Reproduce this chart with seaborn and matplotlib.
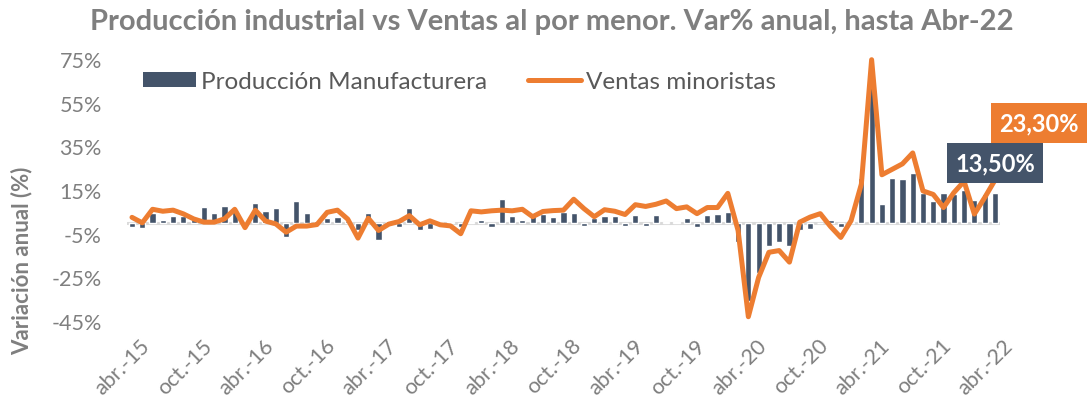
import matplotlib
matplotlib.use("Agg")
import matplotlib.pyplot as plt
import matplotlib.transforms as mtransforms
import seaborn as sns
import pandas as pd
from matplotlib.patches import Patch
from matplotlib.lines import Line2D

# months abr-15 .. abr-22
month_abbr = ["ene.", "feb.", "mar.", "abr.", "may.", "jun.", "jul.", "ago.", "sep.", "oct.", "nov.", "dic."]
months = [f"{month_abbr[(3 + k) % 12]}-{15 + (3 + k) // 12}" for k in range(85)]

# Producción Manufacturera, var% anual
produccion = [-2.0, -2.3, 4.4, 1.4, 3.3, 3.3, 2.6, 7.1, 4.4, 7.9, 6.4, 0.5,
              9.1, 5.3, 6.7, -6.6, 10.2, 4.6, 1.0, 2.1, 2.8, 1.0, -3.3, 4.7,
              -8.0, 1.0, -1.8, 6.7, -3.3, -3.0, 0.5, 0.3, -1.8, 0.3, 1.2, -1.8,
              10.8, 2.9, 1.4, 3.2, 4.2, 2.8, 5.0, 4.6, -1.4, 2.3, 3.0, 3.0,
              -1.6, 3.6, -1.3, 3.6, 0.3, 0.5, 2.2, -2.0, 3.5, 4.0, 4.8, -9.0,
              -36.0, -23.0, -10.5, -9.0, -10.7, -3.4, -3.0, -0.3, 1.5, -2.0, 0.5, 20.7,
              63.6, 8.5, 20.7, 20.0, 22.7, 13.8, 10.0, 13.8, 13.1, 15.0, 10.5, 13.0,
              13.5]

# Ventas minoristas, var% anual
ventas = [2.5, 0.0, 6.2, 5.3, 5.8, 4.1, 1.8, 0.3, 0.3, 1.8, 6.2, -2.2,
          5.8, 0.8, -0.5, -4.3, -1.5, -1.5, -0.8, 4.8, 5.8, 1.7, -7.0, 2.1,
          -3.5, -0.6, 0.6, 3.3, -0.9, 0.9, -0.9, -1.4, -5.0, 5.5, 5.0, 5.5,
          5.8, 5.5, 6.2, 2.8, 5.2, 5.6, 5.8, 10.8, 6.5, 2.8, 6.0, 5.3,
          3.8, 8.3, 7.5, 8.5, 10.0, 6.5, 7.3, 4.2, 7.0, 7.0, 13.5, -3.5,
          -43.0, -25.0, -13.5, -12.7, -18.0, 0.3, 2.6, 4.2, -1.7, -6.7, 1.0, 17.7,
          74.7, 22.0, 24.5, 27.0, 32.0, 14.6, 13.0, 7.0, 13.8, 19.0, 4.0, 11.5,
          19.5]

y_ticks = [-45, -25, -5, 15, 35, 55, 75]
x_tick_labels = ["abr.-15", "oct.-15", "abr.-16", "oct.-16", "abr.-17", "oct.-17", "abr.-18",
                 "oct.-18", "abr.-19", "oct.-19", "abr.-20", "oct.-20", "abr.-21", "oct.-21", "abr.-22"]
label_prod = "13,50%"
label_ventas = "23,30%"

BAR_COLOR = "#44546A"
LINE_COLOR = "#ED7D31"
GRAY = "#7F7F7F"

sns.set_style("white")
plt.rcParams["font.family"] = ["Lato", "DejaVu Sans"]

df = pd.DataFrame({"mes": months, "pos": range(len(months)),
                   "produccion": produccion, "ventas": ventas})

fig = plt.figure(figsize=(10.89, 4.14), dpi=100)
ax = fig.add_axes([0.1165, 0.222, 0.8018, 0.633])

ax.axhline(0, color="#D9D9D9", lw=2.2, zorder=0)
sns.barplot(data=df, x="pos", y="produccion", color=BAR_COLOR, width=0.6,
            saturation=1, native_scale=True, ax=ax, zorder=2)
sns.lineplot(data=df, x="pos", y="ventas", color=LINE_COLOR, lw=3.6, ax=ax,
             zorder=3, clip_on=False, solid_joinstyle="round", solid_capstyle="round")

ax.set_xlim(-0.5, len(months) - 0.5)
ax.set_ylim(-45, 75)
ax.set_yticks(y_ticks)
ax.set_yticklabels([f"{t}%" for t in y_ticks])
ax.set_xticks(range(0, len(months), 6))
ax.set_xticklabels(x_tick_labels, rotation=45, ha="right", va="top", rotation_mode="anchor")
ax.tick_params(axis="y", length=0, pad=18, labelsize=15.5, labelcolor=GRAY)
ax.tick_params(axis="x", length=0, pad=10, labelsize=15.5, labelcolor=GRAY)
# nudge rotated month labels a bit to the right, like the original
shift = mtransforms.ScaledTranslation(8 / 100, 0, fig.dpi_scale_trans)
for lbl in ax.get_xticklabels():
    lbl.set_transform(lbl.get_transform() + shift)
for s in ax.spines.values():
    s.set_visible(False)
ax.set_xlabel("")
ax.set_ylabel("Variación anual (%)", fontsize=16, fontweight="bold", color=GRAY)
ax.yaxis.set_label_coords(-0.108, 0.235)

fig.suptitle("Producción industrial vs Ventas al por menor. Var% anual, hasta Abr-22",
             x=0.507, y=0.978, fontsize=21, fontweight="bold", color=GRAY)

handles = [Patch(facecolor=BAR_COLOR, edgecolor="none"),
           Line2D([0], [0], color=LINE_COLOR, lw=3.6)]
fig.legend(handles, ["Producción Manufacturera", "Ventas minoristas"],
           loc="upper left", bbox_to_anchor=(143 / 1089, 1 - 72 / 414), ncol=2,
           frameon=False, fontsize=17.5, labelcolor="#595959", handlelength=2.2,
           handleheight=0.62, handletextpad=0.2, columnspacing=1.65,
           borderpad=0, borderaxespad=0)

last = len(months) - 1
ax.text(last, 27.2, label_prod, ha="center", va="center", color="white",
        fontsize=17, fontweight="bold", zorder=5, clip_on=False,
        bbox=dict(boxstyle="square,pad=0.36", facecolor=BAR_COLOR, edgecolor="none"))
ax.text(last + 4.3, 45.9, label_ventas, ha="center", va="center", color="white",
        fontsize=17, fontweight="bold", zorder=5, clip_on=False,
        bbox=dict(boxstyle="square,pad=0.36", facecolor=LINE_COLOR, edgecolor="none"))

fig.savefig("out.png", dpi=100)
